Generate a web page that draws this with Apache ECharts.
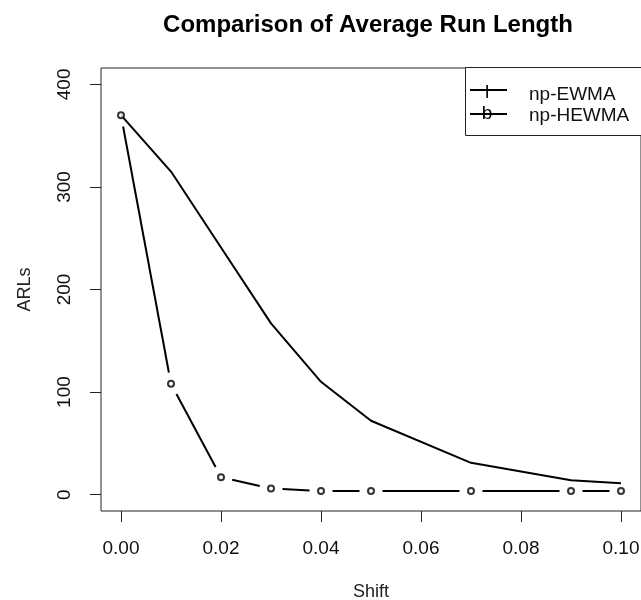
<!DOCTYPE html>
<html>
<head>
  <meta charset="utf-8" />
  <title>Comparison of Average Run Length</title>
  <script src="https://cdn.jsdelivr.net/npm/echarts@6/dist/echarts.min.js"></script>
</head>
<style>
  html, body { margin: 0; padding: 0; background: #fff; }
  #main { width: 641px; height: 600px; }
</style>
<body>
  <div id="main"></div>
  <script>
    // shift values and ARLs
    var shift = [0, 0.01, 0.02, 0.03, 0.04, 0.05, 0.07, 0.09, 0.10];
    var ewma = [370, 315, 241, 167, 110, 72, 31, 14, 11];
    var hewma = [370, 108, 17, 6, 3.5, 3.5, 3.5, 3.5, 3.5];
    var xTicks = [0, 0.02, 0.04, 0.06, 0.08, 0.10];
    var yTicks = [0, 100, 200, 300, 400];
    var names = ['np-EWMA', 'np-HEWMA'];

    var font = 'Liberation Sans, Arial, sans-serif';
    var GAP = 11.5; // px left open around each point, like R type = "b"

    function pairs(ys) {
      return shift.map(function (x, i) { return [x, ys[i]]; });
    }

    // segments between consecutive points, cut short near both ends
    function gappedSegment(params, api) {
      var i = params.dataIndex;
      if (i >= shift.length - 1) return null;
      var a = api.coord([shift[i], hewma[i]]);
      var b = api.coord([shift[i + 1], hewma[i + 1]]);
      var dx = b[0] - a[0], dy = b[1] - a[1];
      var len = Math.sqrt(dx * dx + dy * dy);
      if (len <= 2 * GAP) return null;
      var ux = dx / len, uy = dy / len;
      return {
        type: 'line',
        shape: { x1: a[0] + ux * GAP, y1: a[1] + uy * GAP, x2: b[0] - ux * GAP, y2: b[1] - uy * GAP },
        style: { stroke: '#000', lineWidth: 2 }
      };
    }

    var chart = echarts.init(document.getElementById('main'), null, { renderer: 'canvas' });

    chart.setOption({
      animation: false,
      title: {
        text: 'Comparison of Average Run Length',
        left: 368,
        top: 13,
        padding: 0,
        textAlign: 'center',
        textStyle: { fontFamily: font, fontSize: 24, fontWeight: 'bold', color: '#000' }
      },
      grid: {
        left: 101, right: 0, top: 68, bottom: 89,
        containLabel: false,
        outerBoundsMode: 'none',
        show: true, borderColor: '#222', borderWidth: 1
      },
      xAxis: {
        type: 'value',
        min: -0.004, max: 0.104,
        name: 'Shift',
        nameLocation: 'middle',
        nameGap: 72,
        nameTextStyle: { fontFamily: font, fontSize: 18, color: '#222' },
        axisLine: { show: false, onZero: false },
        splitLine: { show: false },
        axisTick: { show: true, inside: false, length: 11, customValues: xTicks,
          lineStyle: { color: '#222', width: 1 } },
        axisLabel: { customValues: xTicks, margin: 28, fontFamily: font, fontSize: 19, color: '#111',
          formatter: function (v) { return v.toFixed(2); } }
      },
      yAxis: {
        type: 'value',
        min: -16, max: 416,
        name: 'ARLs',
        nameLocation: 'middle',
        nameGap: 67,
        nameTextStyle: { fontFamily: font, fontSize: 18, color: '#222' },
        axisLine: { show: false, onZero: false },
        splitLine: { show: false },
        axisTick: { show: true, inside: false, length: 11, customValues: yTicks,
          lineStyle: { color: '#222', width: 1 } },
        axisLabel: { customValues: yTicks, rotate: 90, margin: 27, fontFamily: font, fontSize: 19, color: '#111' }
      },
      series: [
        {
          name: names[0],
          type: 'line',
          z: 4,
          data: pairs(ewma),
          symbol: 'none',
          lineStyle: { color: '#000', width: 2 }
        },
        {
          name: names[1] + ' line',
          type: 'custom',
          z: 3,
          data: pairs(hewma),
          renderItem: gappedSegment,
          silent: true
        },
        {
          name: names[1],
          type: 'scatter',
          z: 5,
          data: pairs(hewma),
          symbol: 'circle',
          symbolSize: 6,
          itemStyle: { color: '#fff', borderColor: '#000', borderWidth: 2 }
        }
      ],
      graphic: [
        { type: 'rect', z: 10, shape: { x: 465.5, y: 67.5, width: 200, height: 68 },
          style: { fill: '#fff', stroke: '#222', lineWidth: 1 } },
        { type: 'line', z: 11, shape: { x1: 470, y1: 90, x2: 507, y2: 90 },
          style: { stroke: '#000', lineWidth: 2 } },
        { type: 'line', z: 11, shape: { x1: 470, y1: 114, x2: 507, y2: 114 },
          style: { stroke: '#000', lineWidth: 2 } },
        { type: 'text', z: 12, x: 487, y: 93,
          style: { text: 'l', font: '19px ' + font, fill: '#000', align: 'center', verticalAlign: 'middle' } },
        { type: 'text', z: 12, x: 487, y: 114,
          style: { text: 'b', font: '19px ' + font, fill: '#000', align: 'center', verticalAlign: 'middle' } },
        { type: 'text', z: 12, x: 529, y: 95,
          style: { text: names[0], font: '19px ' + font, fill: '#111', align: 'left', verticalAlign: 'middle' } },
        { type: 'text', z: 12, x: 529, y: 116,
          style: { text: names[1], font: '19px ' + font, fill: '#111', align: 'left', verticalAlign: 'middle' } }
      ]
    });
  </script>
</body>
</html>
